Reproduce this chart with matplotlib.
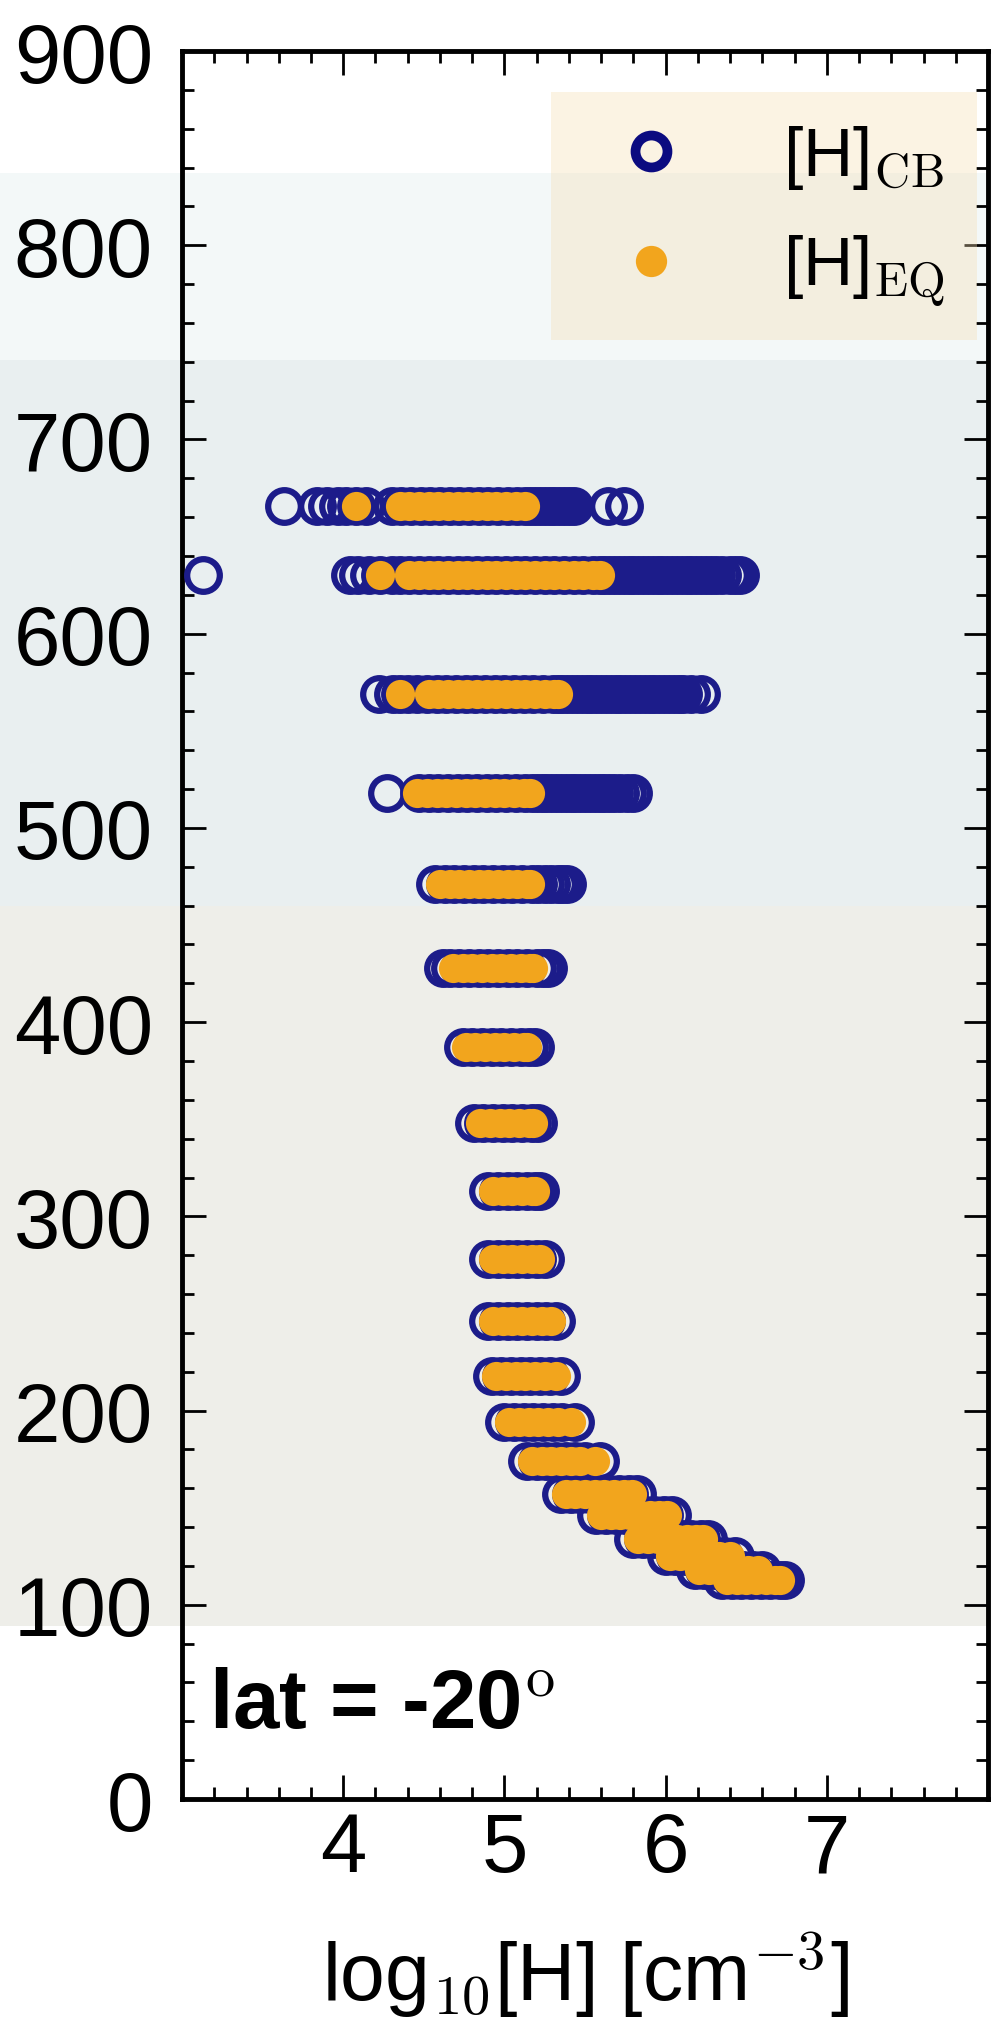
import numpy as np
import matplotlib
matplotlib.use("Agg")
import matplotlib.pyplot as plt
import matplotlib.ticker as ticker
import matplotlib.transforms as mtransforms
from matplotlib.patches import Rectangle

plt.rcParams["font.family"] = ["Liberation Sans", "DejaVu Sans"]
plt.rcParams["mathtext.fontset"] = "cm"

# altitude levels (km) and log10 densities at each level
levels = [666, 630, 569, 518, 471, 428, 387, 348, 313, 278,
          246, 218, 194, 174, 157, 146, 134, 125, 118, 113]

cb_x = [
    [3.63, 3.84, 3.90, 3.97, 4.02, 4.08, 4.14, 4.30, 4.36,
     4.42, 4.48, 4.54, 4.60, 4.66, 4.72, 4.78, 4.84, 4.90, 4.96, 5.02, 5.08,
     5.13, 5.16, 5.19, 5.22, 5.25, 5.28, 5.31, 5.34, 5.37, 5.40, 5.43, 5.64, 5.74],
    [3.13, 4.04, 4.09, 4.16, 4.23, 4.30, 4.35, 4.41, 4.47, 4.53, 4.59,
     4.65, 4.71, 4.77, 4.83, 4.89, 4.95, 5.01, 5.07, 5.13, 5.19, 5.25, 5.31,
     5.37, 5.43, 5.49, 5.55, 5.59, 5.62, 5.65, 5.68, 5.71, 5.74, 5.77, 5.80,
     5.83, 5.86, 5.89, 5.92, 5.95, 5.98, 6.01, 6.04, 6.07, 6.10, 6.13, 6.16,
     6.19, 6.22, 6.25, 6.28, 6.31, 6.35, 6.40, 6.43, 6.46],
    [4.22, 4.31, 4.35, 4.40, 4.46, 4.52, 4.58, 4.64, 4.70, 4.76, 4.82, 4.88,
     4.94, 5.00, 5.06, 5.12, 5.18, 5.24, 5.30, 5.33, 5.36, 5.39, 5.42, 5.45,
     5.48, 5.51, 5.54, 5.57, 5.60, 5.63, 5.66, 5.69, 5.72, 5.75, 5.78, 5.81,
     5.84, 5.87, 5.90, 5.93, 5.96, 5.99, 6.02, 6.05, 6.08, 6.11, 6.16, 6.22],
    [4.27, 4.47, 4.53, 4.59, 4.65, 4.71, 4.77, 4.83, 4.89, 4.95, 5.01, 5.07,
     5.13, 5.17, 5.20, 5.23, 5.26, 5.29, 5.32, 5.35, 5.38, 5.41, 5.44, 5.47,
     5.50, 5.53, 5.56, 5.59, 5.62, 5.65, 5.68, 5.72, 5.76, 5.80],
    [4.57, 4.63, 4.69, 4.75, 4.81, 4.87, 4.93, 4.99, 5.05, 5.11, 5.17, 5.21,
     5.25, 5.29, 5.33, 5.36, 5.39],
    [4.62, 4.66, 4.72, 4.78, 4.84, 4.90, 4.96, 5.02, 5.08, 5.14, 5.20, 5.24, 5.27],
    [4.74, 4.80, 4.86, 4.92, 4.98, 5.04, 5.10, 5.15, 5.19],
    [4.81, 4.87, 4.93, 4.99, 5.05, 5.11, 5.17, 5.21],
    [4.90, 4.96, 5.02, 5.08, 5.14, 5.19, 5.22],
    [4.90, 4.96, 5.02, 5.08, 5.14, 5.20, 5.25],
    [4.90, 4.96, 5.02, 5.08, 5.14, 5.20, 5.26, 5.32],
    [4.92, 4.98, 5.04, 5.10, 5.16, 5.22, 5.28, 5.35],
    [5.00, 5.06, 5.12, 5.18, 5.24, 5.30, 5.36, 5.44],
    [5.14, 5.20, 5.26, 5.32, 5.38, 5.44, 5.50, 5.59],
    [5.35, 5.41, 5.47, 5.53, 5.59, 5.65, 5.71, 5.77, 5.82],
    [5.57, 5.63, 5.69, 5.75, 5.81, 5.87, 5.93, 5.99, 6.04],
    [5.80, 5.86, 5.92, 5.98, 6.04, 6.10, 6.16, 6.22, 6.26],
    [6.00, 6.06, 6.12, 6.18, 6.24, 6.30, 6.36, 6.43],
    [6.18, 6.24, 6.30, 6.36, 6.42, 6.48, 6.54, 6.60],
    [6.35, 6.41, 6.47, 6.53, 6.59, 6.65, 6.71, 6.74],
]

eq_x = [
    [4.08, 4.35, 4.41, 4.47, 4.53, 4.59, 4.65, 4.71, 4.77, 4.83, 4.89, 4.95,
     5.01, 5.07, 5.13],
    [4.23, 4.41, 4.47, 4.53, 4.59, 4.65, 4.71, 4.77, 4.83, 4.89, 4.95, 5.01,
     5.07, 5.13, 5.19, 5.25, 5.31, 5.37, 5.43, 5.49, 5.55, 5.59],
    [4.35, 4.53, 4.59, 4.65, 4.71, 4.77, 4.83, 4.89, 4.95, 5.01, 5.07, 5.13,
     5.19, 5.25, 5.31, 5.33],
    [4.46, 4.52, 4.58, 4.64, 4.70, 4.76, 4.82, 4.88, 4.94, 5.00, 5.06, 5.12, 5.16],
    [4.60, 4.66, 4.72, 4.78, 4.84, 4.90, 4.96, 5.02, 5.08, 5.14, 5.16],
    [4.68, 4.74, 4.80, 4.86, 4.92, 4.98, 5.04, 5.10, 5.16, 5.18],
    [4.76, 4.82, 4.88, 4.94, 5.00, 5.06, 5.12, 5.14],
    [4.85, 4.91, 4.97, 5.03, 5.09, 5.15, 5.18],
    [4.93, 4.99, 5.05, 5.11, 5.17, 5.19],
    [4.93, 4.99, 5.05, 5.11, 5.17, 5.22],
    [4.93, 4.99, 5.05, 5.11, 5.17, 5.23, 5.29],
    [4.95, 5.01, 5.07, 5.13, 5.19, 5.25, 5.32],
    [5.03, 5.09, 5.15, 5.21, 5.27, 5.33, 5.41],
    [5.17, 5.23, 5.29, 5.35, 5.41, 5.47, 5.56],
    [5.38, 5.44, 5.50, 5.56, 5.62, 5.68, 5.74, 5.79],
    [5.60, 5.66, 5.72, 5.78, 5.84, 5.90, 5.96, 6.01],
    [5.83, 5.89, 5.95, 6.01, 6.07, 6.13, 6.19, 6.23],
    [6.03, 6.09, 6.15, 6.21, 6.27, 6.33, 6.40],
    [6.21, 6.27, 6.33, 6.39, 6.45, 6.51, 6.57],
    [6.38, 6.44, 6.50, 6.56, 6.62, 6.68, 6.71],
]

# altitude bands shaded behind the panel
band_lo = [741, 460, 89]
band_hi = [837, 741, 460]
band_colors = ["#f3f8f8", "#e9eff0", "#eeeee9"]

navy = "#1c1c8a"
navy_dark = "#0b0b80"
orange = "#f2a51d"

cb_xs = np.concatenate([np.asarray(v) for v in cb_x])
cb_ys = np.concatenate([np.full(len(v), lev) for v, lev in zip(cb_x, levels)])
eq_xs = np.concatenate([np.asarray(v) for v in eq_x])
eq_ys = np.concatenate([np.full(len(v), lev) for v, lev in zip(eq_x, levels)])

fig = plt.figure(figsize=(9.91, 20.33), dpi=100, facecolor="white")
ax = fig.add_axes([0.1837, 0.1146, 0.8133, 0.8598])
ax.set_facecolor("none")

band_tf = mtransforms.blended_transform_factory(fig.transFigure, ax.transData)
for lo, hi, col in zip(band_lo, band_hi, band_colors):
    fig.add_artist(Rectangle((0, lo), 1, hi - lo, transform=band_tf,
                             facecolor=col, edgecolor="none", zorder=-10))

ax.plot(cb_xs, cb_ys, ls="none", marker="o", ms=23.5, mfc="none",
        mec=navy, mew=4.5, zorder=3, label=r"[H]$_{\rm CB}$")
ax.plot(eq_xs, eq_ys, ls="none", marker="o", ms=21, mfc=orange,
        mec="none", zorder=4, label=r"[H]$_{\rm EQ}$")

ax.set_xlim(3, 8)
ax.set_ylim(0, 900)
ax.xaxis.set_major_locator(ticker.FixedLocator([4, 5, 6, 7]))
ax.xaxis.set_minor_locator(ticker.MultipleLocator(0.2))
ax.yaxis.set_major_locator(ticker.MultipleLocator(100))
ax.yaxis.set_minor_locator(ticker.MultipleLocator(20))

for sp in ax.spines.values():
    sp.set_linewidth(3.5)
ax.tick_params(which="both", direction="in", top=True, right=True, width=2.0)
ax.tick_params(which="major", length=17)
ax.tick_params(which="minor", length=8.5)
ax.tick_params(axis="x", labelsize=60, pad=8)
ax.tick_params(axis="y", labelsize=60, pad=21)

ax.set_xlabel("log$_{10}$[H] [cm$^{-3}$]", fontsize=58, labelpad=30)

ax.text(3.17, 37, r"lat = -20$^{\rm o}$", fontsize=60, fontweight="bold",
        va="baseline", ha="left", zorder=5)

leg = ax.legend(loc="upper right", bbox_to_anchor=(0.986, 0.9765), borderaxespad=0,
                fontsize=50, numpoints=1, frameon=True, fancybox=False,
                facecolor="wheat", edgecolor="none", framealpha=0.36,
                handlelength=2.0, handletextpad=0.9, borderpad=0.45,
                labelspacing=0.59)
h_cb, h_eq = leg.legend_handles
h_cb.set_markersize(23)
h_cb.set_markeredgewidth(7.0)
h_cb.set_markeredgecolor(navy_dark)
h_eq.set_markersize(22.5)

fig.savefig("out.png", dpi=100, facecolor="white")
